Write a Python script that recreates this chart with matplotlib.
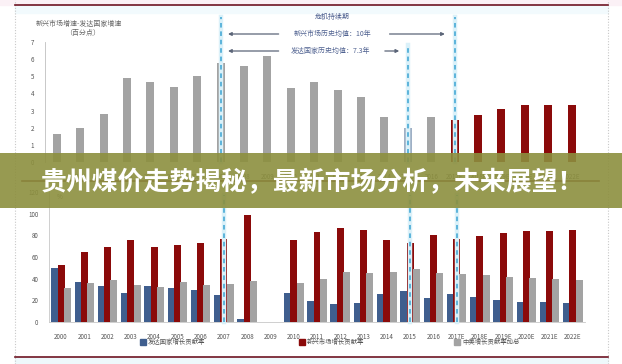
import matplotlib
matplotlib.use('Agg')
import matplotlib.pyplot as plt
import matplotlib.transforms as mtransforms
from matplotlib.patches import Rectangle
from matplotlib.lines import Line2D

plt.rcParams['font.family'] = ['Noto Sans CJK SC', 'DejaVu Sans']

# ---------------- data ----------------
years = ['2000', '2001', '2002', '2003', '2004', '2005', '2006', '2007', '2008', '2009',
         '2010', '2011', '2012', '2013', '2014', '2015', '2016', '2017E', '2018E',
         '2019E', '2020E', '2021E', '2022E']
gap_values = [1.65, 2.0, 2.78, 4.92, 4.67, 4.38, 5.0, 5.77, 5.58, 6.16, 4.3, 4.65,
              4.19, 3.78, 2.6, 2.0, 2.63, 2.44, 2.77, 3.12, 3.3, 3.32, 3.32]
developed = [49.5, 37.3, 33.6, 27.2, 33.3, 31.2, 29.6, 25.0, 3.0, 0, 27.2, 19.4,
             16.4, 17.3, 25.6, 29.0, 22.5, 25.6, 22.8, 20.4, 18.8, 18.2, 17.3]
emerging = [52.8, 65.0, 68.8, 75.3, 68.8, 71.3, 72.8, 76.9, 99.0, 0, 75.3, 83.0,
            86.7, 84.6, 75.9, 72.8, 79.9, 76.5, 79.6, 82.1, 83.6, 84.3, 84.6]
china_us = [31.8, 35.8, 38.9, 34.3, 32.1, 36.7, 34.3, 35.2, 37.6, 0, 36.4, 39.8,
            46.0, 45.0, 46.6, 49.0, 45.0, 44.4, 43.5, 41.4, 40.4, 39.5, 38.9]
series_names = ['发达国家增长贡献率', '新兴市场增长贡献率', '中美增长贡献率加总']
top_title = ['新兴市场增速-发达国家增速', '（百分点）']
crisis_label = '危机持续期'
em_avg_label = '新兴市场历史均值：10年'
dev_avg_label = '发达国家历史均值：7.3年'
crisis_start, dev_end, em_end = '2007', '2015', '2017E'
banner_title = '贵州煤价走势揭秘，最新市场分析，未来展望！'

W, H = 622, 364
fig = plt.figure(figsize=(W / 100, H / 100), dpi=100)
fig.patch.set_facecolor('white')


def fx(px):
    return px / W


def fy(py):
    return 1 - py / H


def add_axes_px(left, top, right, bottom):
    return fig.add_axes([fx(left), fy(bottom), (right - left) / W, (bottom - top) / H])


GRAY = '#a3a3a3'
RED = '#8b0a0a'
BLUE = '#3f5e8e'
LBLUE = '#9fb0c5'
TXT = '#555555'
DASH = '#3aa3d2'
x = list(range(len(years)))
i_cs, i_dev, i_em = years.index(crisis_start), years.index(dev_end), years.index(em_end)

# faint background strips and frame lines
fig.add_artist(Rectangle((0, fy(5)), 1, 5 / H, transform=fig.transFigure, color='#fbf1f6', zorder=0))
fig.add_artist(Rectangle((fx(15), fy(13)), fx(593), 8 / H, transform=fig.transFigure, color='#f2fafd', zorder=0))
fig.add_artist(Rectangle((fx(15), 0), fx(593), 7 / H, transform=fig.transFigure, color='#eef8fb', zorder=0))
for xx in (15, 608):
    fig.add_artist(Line2D([fx(xx), fx(xx)], [0, 1], transform=fig.transFigure,
                          color='#c8c8c8', lw=0.8, ls=(0, (1, 1.5)), zorder=1))
for (x0, x1, yy) in ((15, 608, 5), (22, 599, 181), (15, 608, 357)):
    fig.add_artist(Line2D([fx(x0), fx(x1)], [fy(yy), fy(yy)], transform=fig.transFigure,
                          color='#6e1423', lw=1.2, zorder=1))

# ---------------- top chart ----------------
ax1 = add_axes_px(45, 42, 583.4, 162)
ax1.set_facecolor('none')
colors_top = []
for i in x:
    if i == i_dev:
        colors_top.append(LBLUE)
    elif i >= i_em:
        colors_top.append(RED)
    else:
        colors_top.append(GRAY)
ax1.bar(x, gap_values, width=0.34, color=colors_top, zorder=2)
ax1.set_xlim(-0.5, len(years) - 0.5)
ax1.set_ylim(0, 7)
ax1.set_yticks(range(0, 8))
ax1.set_xticks(x)
ax1.set_xticklabels(years)
for s in ('top', 'right', 'bottom'):
    ax1.spines[s].set_visible(False)
ax1.spines['left'].set_color('#bfbfbf')
ax1.spines['left'].set_linewidth(0.6)
ax1.tick_params(axis='both', length=0, labelsize=4.5, colors=TXT, pad=8)

tr1 = mtransforms.blended_transform_factory(ax1.transData, ax1.transAxes)
for i, ytop in ((i_cs, 1.21), (i_dev, 0.975), (i_em, 1.21)):
    ax1.plot([i, i], [0, ytop], transform=tr1, color='#dbf1f9', lw=3.2, clip_on=False, zorder=3)
    ax1.plot([i, i], [0, ytop], transform=tr1, color=DASH, lw=1.1, ls=(0, (3, 2.5)),
             clip_on=False, zorder=4)

fig.text(fx(79), fy(24), top_title[0], ha='center', va='center', fontsize=5, color='#666666')
fig.text(fx(83), fy(33), top_title[1], ha='center', va='center', fontsize=5, color='#666666')

ann_color = '#4f6190'
fig.text(fx(332), fy(17), crisis_label, ha='center', va='center', fontsize=5, color=ann_color)
fig.text(fx(333), fy(34), em_avg_label, ha='center', va='center', fontsize=5, color=ann_color)
fig.text(fx(331), fy(51), dev_avg_label, ha='center', va='center', fontsize=5, color=ann_color)
arrow_kw = dict(arrowstyle='-|>', color='#5b6578', lw=0.9, mutation_scale=5)
for (xs, xe, yy) in ((9.6, i_cs + 0.2, 34), (14.1, i_em - 0.3, 34),
                     (9.6, i_cs + 0.2, 51), (13.9, i_dev - 0.25, 51)):
    ax1.annotate('', xy=(xe, fy(yy)), xytext=(xs, fy(yy)),
                 xycoords=('data', 'figure fraction'), textcoords=('data', 'figure fraction'),
                 arrowprops=arrow_kw, annotation_clip=False)

# ---------------- bottom chart ----------------
ax2 = add_axes_px(49.4, 192, 584.6, 322)
ax2.set_facecolor('none')
bw = 0.3
off = 0.27
ax2.bar([i - off for i in x], developed, width=bw, color=BLUE, zorder=2)
ax2.bar(x, emerging, width=bw, color=RED, zorder=3)
ax2.bar([i + off for i in x], china_us, width=bw, color=GRAY, zorder=4)
ax2.set_xlim(-0.5, len(years) - 0.5)
ax2.set_ylim(0, 120)
ax2.set_yticks(range(0, 121, 20))
ax2.set_xticks(x)
ax2.set_xticklabels(years)
for s in ('top', 'right'):
    ax2.spines[s].set_visible(False)
for s in ('left', 'bottom'):
    ax2.spines[s].set_color('#c8c8c8')
    ax2.spines[s].set_linewidth(0.6)
ax2.tick_params(axis='both', length=0, labelsize=4.5, colors=TXT, pad=8)
ax2.text(fx(60), fy(197), '%', transform=fig.transFigure, ha='center', va='center',
         fontsize=4.5, color=TXT)

tr2 = mtransforms.blended_transform_factory(ax2.transData, ax2.transAxes)
for i in (i_cs, i_dev, i_em):
    ax2.plot([i, i], [0, 0.98], transform=tr2, color='#dbf1f9', lw=3.2, clip_on=False, zorder=5)
    ax2.plot([i, i], [0, 0.98], transform=tr2, color=DASH, lw=1.1, ls=(0, (3, 2.5)),
             clip_on=False, zorder=6)

# legend (manual, wide spacing as in the reference)
for name, col, lx in zip(series_names, [BLUE, RED, GRAY], [143, 302, 457]):
    fig.add_artist(Rectangle((fx(lx - 3), fy(345)), 6 / W, 6 / H, transform=fig.transFigure,
                             color=col, zorder=3))
    fig.text(fx(lx + 5), fy(342), name, ha='left', va='center', fontsize=4.6, color=TXT)

# ---------------- banner overlay ----------------
fig.add_artist(Rectangle((0, fy(208)), 1, (208 - 153) / H, transform=fig.transFigure,
                         color='#8c8f3e', alpha=0.9, zorder=20, lw=0))
fig.text(fx(312), fy(183), banner_title, ha='center', va='center', fontsize=18.6,
         fontweight='bold', color='white', zorder=21)

fig.savefig('out.png', dpi=100)
